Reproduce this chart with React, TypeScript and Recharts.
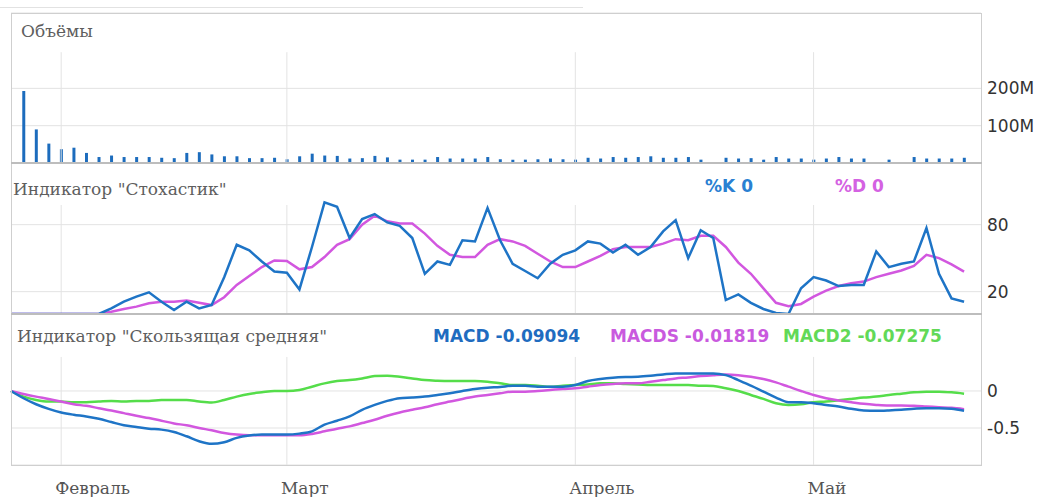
import React from 'react';
import { ComposedChart, LineChart, Bar, Line, XAxis, YAxis, CartesianGrid, ReferenceLine } from 'recharts';

// trading-day index of the first session of each month
const monthLabels = ['Февраль', 'Март', 'Апрель', 'Май'];
const monthStarts = [4, 22, 45, 64];

// volume, millions (null = no trades that day)
const volumeM = [
  null, 193, 90, 52, 37, 41, 27, 16, 20, 16, 16, 16, 14, 13, 27, 29, 23, 18, 18, 13,
  13, 14, 10, 18, 25, 20, 19, 12, 13, 19, 15, 9, 9, 9, 16, 12, 12, 12, 16, 10,
  9, 9, 10, 12, 10, 9, 14, 12, 16, 14, 16, 18, 14, 14, 16, 9, null, 14, 12, 13,
  9, 16, 12, 12, 9, 12, 16, 12, 12, null, 9, null, 16, 12, 12, 12, 14,
];

const stochK = [
  0, 0, 0, 0, 0, 0, 0, 0, 5, 11, 15.5, 19.4, 11, 3.6, 11, 5, 8, 33, 62, 57,
  47, 38, 37, 22, 60, 100, 96, 68, 85, 89.5, 82, 79, 68, 36, 47, 44, 66, 65, 95, 66,
  45, 38.5, 32, 45, 53, 57, 65, 63, 55, 62, 53, 60, 74, 84, 50, 75, 68, 12.5, 17.6, 10,
  4.5, 1, 0, 23, 33, 30, 25, 26, 26, 56, 42, 45, 47, 77, 36, 14, 11,
];

const stochD = [
  0, 0, 0, 0, 0, 0, 0, 0, 2, 4.5, 6.6, 9.6, 11, 11, 12, 10, 8, 15, 26, 34,
  42, 48, 47.5, 40, 42, 51, 62, 67, 80, 88, 83, 81, 81, 72, 61, 53, 51, 51, 62, 67,
  65, 61, 54, 47, 42, 42, 47, 52, 58, 60, 60, 60, 63, 67, 66, 70, 70, 60, 46, 36,
  23, 10, 7, 9, 15.5, 21, 25, 27.5, 29, 33, 36, 39, 43, 53, 50, 44.5, 38,
];

const macd = [
  0, -0.098, -0.179, -0.241, -0.29, -0.321, -0.344, -0.375, -0.42, -0.464, -0.487, -0.509, -0.522, -0.554, -0.612, -0.679, -0.714, -0.692, -0.634, -0.603,
  -0.589, -0.589, -0.589, -0.576, -0.545, -0.455, -0.402, -0.344, -0.254, -0.188, -0.134, -0.098, -0.089, -0.076, -0.054, -0.031, 0, 0.027, 0.045, 0.054,
  0.071, 0.071, 0.058, 0.058, 0.058, 0.08, 0.134, 0.161, 0.179, 0.188, 0.192, 0.205, 0.223, 0.237, 0.237, 0.237, 0.237, 0.214, 0.147, 0.071,
  -0.009, -0.089, -0.152, -0.152, -0.165, -0.188, -0.21, -0.241, -0.263, -0.268, -0.263, -0.254, -0.241, -0.232, -0.232, -0.241, -0.268,
];

const macds = [
  0, -0.04, -0.076, -0.107, -0.143, -0.179, -0.201, -0.232, -0.263, -0.299, -0.335, -0.366, -0.402, -0.438, -0.464, -0.5, -0.531, -0.567, -0.589, -0.598,
  -0.598, -0.598, -0.598, -0.598, -0.58, -0.545, -0.509, -0.478, -0.433, -0.388, -0.335, -0.29, -0.254, -0.219, -0.179, -0.143, -0.107, -0.076, -0.054, -0.031,
  -0.009, -0.009, 0, 0.013, 0.027, 0.036, 0.058, 0.08, 0.094, 0.103, 0.103, 0.125, 0.147, 0.17, 0.183, 0.201, 0.214, 0.223, 0.214, 0.192,
  0.161, 0.116, 0.058, 0, -0.054, -0.098, -0.129, -0.152, -0.174, -0.188, -0.196, -0.196, -0.201, -0.21, -0.219, -0.228, -0.246,
];

const macd2 = [
  0, -0.076, -0.121, -0.143, -0.143, -0.152, -0.152, -0.143, -0.134, -0.143, -0.134, -0.134, -0.121, -0.121, -0.121, -0.143, -0.156, -0.121, -0.076, -0.04,
  -0.018, 0, 0, 0.013, 0.058, 0.103, 0.134, 0.147, 0.17, 0.201, 0.205, 0.192, 0.17, 0.147, 0.138, 0.134, 0.134, 0.134, 0.125, 0.103,
  0.08, 0.08, 0.071, 0.058, 0.071, 0.08, 0.089, 0.103, 0.103, 0.094, 0.089, 0.08, 0.08, 0.08, 0.08, 0.071, 0.067, 0.036, 0, -0.054,
  -0.107, -0.165, -0.188, -0.179, -0.152, -0.143, -0.125, -0.107, -0.089, -0.076, -0.054, -0.036, -0.018, -0.009, -0.009, -0.018, -0.036,
];

const volumeTicks = [100, 200];
const stochTicks = [20, 80];
const macdTicks = [-0.5, 0];

const data = stochK.map((k, i) => ({
  idx: i,
  vol: volumeM[i] == null ? null : (volumeM[i] as number) * 1e6,
  k,
  d: stochD[i],
  macd: macd[i],
  macds: macds[i],
  macd2: macd2[i],
}));

const W = 1039;
const X_DOMAIN: [number, number] = [0, 77.35];
const GRID = '#e3e3e3';
const BLUE = '#1e74c6';
const MAGENTA = '#d257df';
const GREEN = '#55dd4a';
const SERIF = '"DejaVu Serif", serif';
const SANS = '"DejaVu Sans", sans-serif';
const tickStyle = { fill: '#333', fontSize: 17, fontFamily: SANS };

const MonthTick = ({ x, y, payload }: any) => {
  const i = monthStarts.indexOf(payload.value);
  return (
    <text x={x - 6} y={y + 29} fill="#555" fontSize={17} fontFamily={SERIF} textAnchor="start">
      {monthLabels[i]}
    </text>
  );
};

const monthLines = (top: number, bottom: number) =>
  monthStarts.map((m) => (
    <ReferenceLine
      key={m}
      segment={[{ x: m, y: top }, { x: m, y: bottom }]}
      stroke={GRID}
      strokeWidth={1}
    />
  ));

const abs = (left: number, top: number): React.CSSProperties => ({
  position: 'absolute',
  left,
  top,
  whiteSpace: 'nowrap',
  lineHeight: '20px',
});

const titleStyle = (left: number, top: number): React.CSSProperties => ({
  ...abs(left, top),
  fontFamily: SERIF,
  fontSize: 17,
  color: '#5e5e5e',
});

const legendStyle = (left: number, top: number, color: string): React.CSSProperties => ({
  ...abs(left, top),
  fontFamily: SANS,
  fontSize: 17,
  fontWeight: 'bold',
  color,
});

export default function App() {
  return (
    <div style={{ position: 'absolute', left: 0, top: 0, width: W, height: 497, background: '#fff' }}>
      <div style={{ position: 'absolute', left: 0, top: 7, width: 583, height: 1, background: '#e2e2e2' }} />

      {/* volumes */}
      <div style={{ position: 'absolute', left: 0, top: 0 }}>
        <ComposedChart width={W} height={165} data={data} margin={{ top: 13, right: 0, bottom: 2, left: 11 }}>
          <CartesianGrid stroke={GRID} vertical={false} />
          <XAxis dataKey="idx" type="number" domain={X_DOMAIN} ticks={monthStarts} hide />
          <YAxis
            orientation="right"
            width={58}
            domain={[0, 402e6]}
            ticks={volumeTicks.map((v) => v * 1e6)}
            tickFormatter={(v: number) => `${v / 1e6}M`}
            axisLine={false}
            tickLine={false}
            tickSize={0}
            tickMargin={6}
            tick={tickStyle}
          />
          {monthLines(297e6, 0)}
          <Bar dataKey="vol" fill="#1c6cbd" barSize={3} isAnimationActive={false} />
        </ComposedChart>
      </div>

      {/* stochastic */}
      <div style={{ position: 'absolute', left: 0, top: 163 }}>
        <LineChart width={W} height={151} data={data} margin={{ top: 0, right: 0, bottom: 0, left: 11 }}>
          <CartesianGrid stroke={GRID} vertical={false} />
          <XAxis dataKey="idx" type="number" domain={X_DOMAIN} ticks={monthStarts} hide />
          <YAxis
            orientation="right"
            width={58}
            domain={[0, 135.2]}
            ticks={stochTicks}
            axisLine={false}
            tickLine={false}
            tickSize={0}
            tickMargin={6}
            tick={tickStyle}
          />
          {monthLines(97.6, 0)}
          <Line type="linear" dataKey="d" stroke={MAGENTA} strokeWidth={2.5} dot={false} isAnimationActive={false} />
          <Line type="linear" dataKey="k" stroke={BLUE} strokeWidth={2.5} dot={false} isAnimationActive={false} />
        </LineChart>
      </div>

      {/* MACD */}
      <div style={{ position: 'absolute', left: 0, top: 314 }}>
        <LineChart width={W} height={183} data={data} margin={{ top: 0, right: 0, bottom: 0, left: 11 }}>
          <CartesianGrid stroke={GRID} vertical={false} />
          <XAxis
            dataKey="idx"
            type="number"
            domain={X_DOMAIN}
            ticks={monthStarts}
            height={32}
            axisLine={false}
            tickLine={false}
            tickSize={0}
            tickMargin={0}
            tick={<MonthTick />}
          />
          <YAxis
            orientation="right"
            width={58}
            domain={[-1, 1.04]}
            ticks={macdTicks}
            axisLine={false}
            tickLine={false}
            tickSize={0}
            tickMargin={6}
            tick={tickStyle}
          />
          {monthLines(0.46, -1)}
          <Line type="monotone" dataKey="macd2" stroke={GREEN} strokeWidth={2.5} dot={false} isAnimationActive={false} />
          <Line type="monotone" dataKey="macds" stroke={MAGENTA} strokeWidth={2.5} dot={false} isAnimationActive={false} />
          <Line type="monotone" dataKey="macd" stroke={BLUE} strokeWidth={2.5} dot={false} isAnimationActive={false} />
        </LineChart>
      </div>

      {/* frame and panel separators */}
      <div
        style={{
          position: 'absolute',
          left: 11,
          top: 13,
          width: 971,
          height: 453,
          boxSizing: 'border-box',
          border: '1px solid #cfcfcf',
          pointerEvents: 'none',
        }}
      />
      <div style={{ position: 'absolute', left: 11, top: 162, width: 971, height: 2, background: '#bdbdbd' }} />
      <div style={{ position: 'absolute', left: 11, top: 313, width: 971, height: 2, background: '#bdbdbd' }} />

      {/* titles */}
      <div style={titleStyle(21, 21)}>Объёмы</div>
      <div style={titleStyle(13, 179)}>Индикатор "Стохастик"</div>
      <div style={titleStyle(17, 326)}>Индикатор "Скользящая средняя"</div>

      {/* value legends */}
      <div style={legendStyle(705, 176, '#2a80d2')}>%K 0</div>
      <div style={legendStyle(835, 176, '#d462e2')}>%D 0</div>
      <div style={legendStyle(433, 326, '#1f6cc0')}>MACD -0.09094</div>
      <div style={legendStyle(610, 326, '#c95ade')}>MACDS -0.01819</div>
      <div style={legendStyle(783, 326, '#62d957')}>MACD2 -0.07275</div>
    </div>
  );
}
